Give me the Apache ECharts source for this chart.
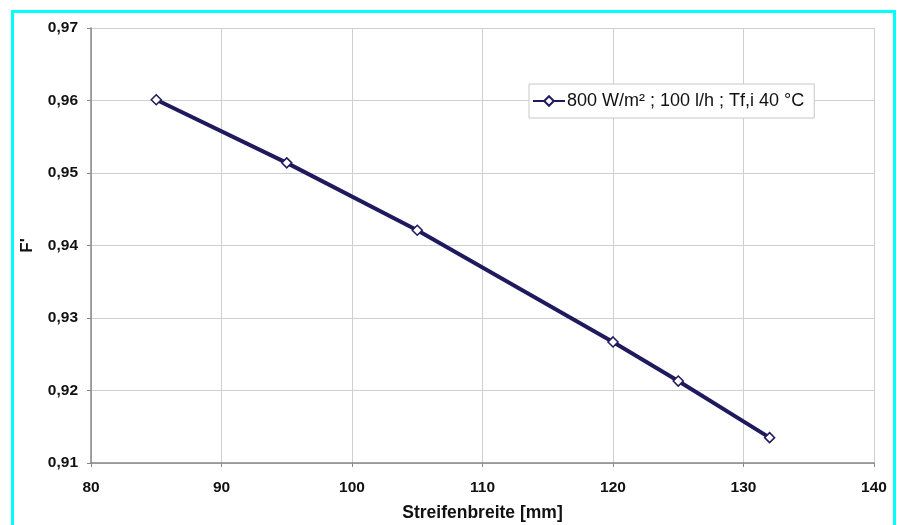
<!DOCTYPE html>
<html><head><meta charset="utf-8">
<script src="https://cdn.jsdelivr.net/npm/echarts@6/dist/echarts.min.js"></script>
<style>
html,body{margin:0;padding:0;background:#fff;width:899px;height:525px;overflow:hidden;}
#frame{position:absolute;left:11px;top:10px;width:879px;height:530px;border:3px solid #00ffff;border-bottom:none;background:#fff;}
#c{position:absolute;left:0;top:0;width:899px;height:525px;}
</style></head>
<body>
<div id="frame"></div>
<div id="c"></div>
<script>
const xValues = [85, 95, 105, 120, 125, 132];
const yValues = [0.9601, 0.9514, 0.9421, 0.9267, 0.9213, 0.9135];
const seriesName = '800 W/m² ; 100 l/h ; Tf,i 40 °C';
const xTitle = 'Streifenbreite [mm]';
const yTitle = "F'";

const chart = echarts.init(document.getElementById('c'), null, {renderer:'canvas'});
const fmt = v => v.toFixed(2).replace('.', ',');
const FONT = 'Liberation Sans, Arial';
chart.setOption({
  animation:false,
  backgroundColor:'transparent',
  grid:{left:91, right:25, top:28, bottom:62, outerBoundsMode:'none', containLabel:false},
  legend:{
    data:[{name:seriesName}],
    left:529, top:84,
    orient:'vertical',
    backgroundColor:'#fff',
    borderColor:'#c8c8c8', borderWidth:1,
    padding:[8,10,8,3],
    itemWidth:32, itemHeight:12, itemGap:0,
    textStyle:{fontFamily:FONT, fontSize:18, color:'#111', padding:[0,0,0,-3]}
  },
  xAxis:{
    type:'value', min:80, max:140, interval:10,
    name:xTitle, nameLocation:'middle', nameGap:41,
    nameTextStyle:{fontFamily:FONT, fontWeight:'bold', fontSize:17.5, color:'#111'},
    axisLine:{show:true, lineStyle:{color:'#888', width:1.5}},
    axisTick:{show:true, length:4, lineStyle:{color:'#888'}},
    axisLabel:{margin:17, fontFamily:FONT, fontWeight:'bold', fontSize:15.5, color:'#111'},
    splitLine:{show:true, lineStyle:{color:'#cfcfcf', width:1}}
  },
  yAxis:{
    type:'value', min:0.91, max:0.97, interval:0.01,
    name:yTitle, nameLocation:'middle', nameGap:55, nameRotate:90,
    nameTextStyle:{fontFamily:FONT, fontWeight:'bold', fontSize:17, color:'#111'},
    axisLine:{show:true, lineStyle:{color:'#888', width:1.5}},
    axisTick:{show:true, length:4, lineStyle:{color:'#888'}},
    axisLabel:{margin:13, formatter:fmt, fontFamily:FONT, fontWeight:'bold', fontSize:15.5, color:'#111'},
    splitLine:{show:true, lineStyle:{color:'#cfcfcf', width:1}}
  },
  series:[{
    name:seriesName, type:'line',
    data:xValues.map((x,i)=>[x,yValues[i]]),
    symbol:'diamond', symbolSize:10, showAllSymbol:true,
    lineStyle:{color:'#1f1a5e', width:4},
    itemStyle:{color:'#fff', borderColor:'#1f1a5e', borderWidth:1.5},
    emphasis:{disabled:true}
  }]
});
</script>
</body></html>
